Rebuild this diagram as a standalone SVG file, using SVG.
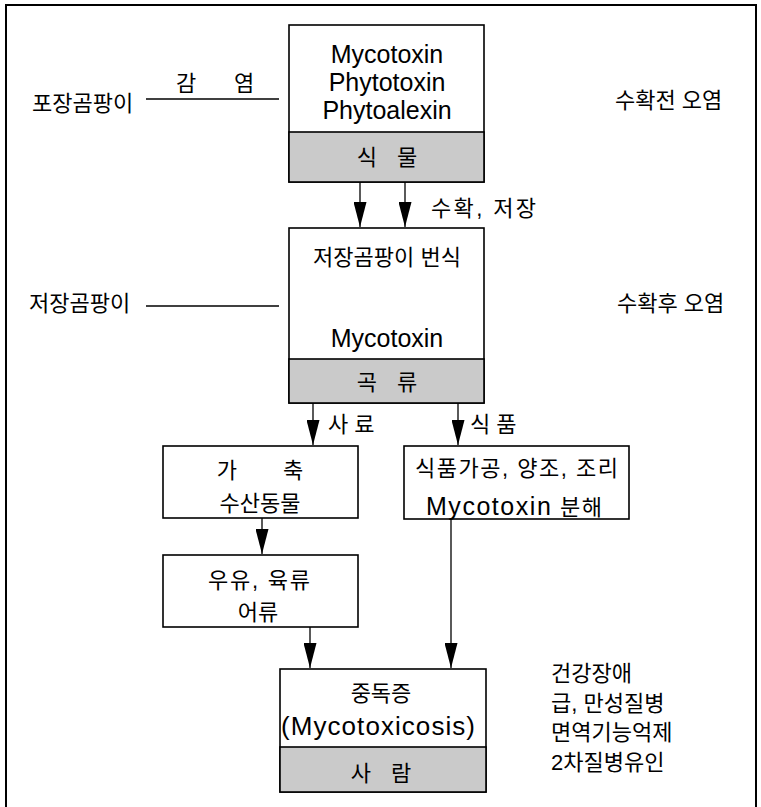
<svg xmlns="http://www.w3.org/2000/svg" width="761" height="807" viewBox="0 0 761 807">
<defs>
<marker id="ah" markerWidth="25" markerHeight="13" refX="25" refY="6.5" orient="auto" markerUnits="userSpaceOnUse" viewBox="0 0 25 13">
<path d="M0,0 L25,6.5 L0,13 Z" fill="#000"/>
</marker>
<style>
text{font-family:"Liberation Sans","Noto Sans CJK KR",sans-serif;fill:#000;}
.k{font-size:22px;}
.e{font-size:25px;}
.m{text-anchor:middle;}
.box{fill:#fff;stroke:#000;stroke-width:1.6;}
.band{fill:#cacaca;stroke:#000;stroke-width:1.6;}
.ln{stroke:#000;stroke-width:1.3;fill:none;}
.ar{stroke:#000;stroke-width:1.3;fill:none;marker-end:url(#ah);}
</style>
</defs>
<rect width="761" height="807" fill="#fff"/>
<g id="frame">
<path d="M6,807 L6,5 L756,5 L756,807" fill="none" stroke="#000" stroke-width="2"/>
</g>
<g id="connectors">
<line class="ln" x1="146" y1="99" x2="279" y2="99"/>
<line class="ln" x1="146" y1="306" x2="279" y2="306"/>
<line class="ln" x1="387" y1="272" x2="387" y2="319"/>
<line class="ar" x1="360" y1="182" x2="360" y2="227"/>
<line class="ar" x1="405" y1="182" x2="405" y2="227"/>
<line class="ar" x1="313" y1="403" x2="313" y2="445"/>
<line class="ar" x1="458" y1="403" x2="458" y2="445"/>
<line class="ar" x1="262" y1="518" x2="262" y2="554"/>
<line class="ar" x1="310" y1="627" x2="310" y2="668"/>
<line class="ar" x1="451" y1="519" x2="451" y2="668"/>
</g>
<g id="field-fungi">
<text class="k" x="32" y="111">포장곰팡이</text>
<text class="k" x="176" y="91">감</text>
<text class="k" x="234" y="91">염</text>
</g>
<g id="pre-harvest">
<text class="k" x="615" y="108">수확전 오염</text>
</g>
<g id="plant">
<rect class="box" x="289" y="25" width="195" height="157"/>
<rect class="band" x="289" y="132" width="195" height="50"/>
<text class="e m" x="387" y="63">Mycotoxin</text>
<text class="e m" x="387" y="91">Phytotoxin</text>
<text class="e m" x="387" y="119">Phytoalexin</text>
<text class="k m" x="387" y="165" style="word-spacing:14px">식 물</text>
</g>
<g id="harvest-label">
<text class="k" x="431" y="216" textLength="105" lengthAdjust="spacing">수확, 저장</text>
</g>
<g id="storage-fungi">
<text class="k" x="29" y="311">저장곰팡이</text>
</g>
<g id="post-harvest">
<text class="k" x="617" y="311">수확후 오염</text>
</g>
<g id="grain">
<rect class="box" x="289" y="228" width="195" height="175"/>
<rect class="band" x="289" y="359" width="195" height="44"/>
<text class="k m" x="387" y="265">저장곰팡이 번식</text>
<text class="e m" x="387" y="347">Mycotoxin</text>
<text class="k m" x="387" y="390" style="word-spacing:14px">곡 류</text>
</g>
<g id="feed-label"><text class="k" x="328" y="432">사 료</text></g>
<g id="food-label"><text class="k" x="470" y="432">식 품</text></g>
<g id="livestock">
<rect class="box" x="163" y="446" width="195" height="72"/>
<text class="k m" x="260" y="478" style="word-spacing:40px">가 축</text>
<text class="k m" x="260" y="511">수산동물</text>
</g>
<g id="processing">
<rect class="box" x="404" y="446" width="225" height="73"/>
<text class="k" x="415" y="476" textLength="203" lengthAdjust="spacing">식품가공, 양조, 조리</text>
<text class="k" x="426" y="515" textLength="176" lengthAdjust="spacing"><tspan class="e">Mycotoxin</tspan> 분해</text>
</g>
<g id="products">
<rect class="box" x="163" y="555" width="195" height="72"/>
<text class="k" x="208" y="588" textLength="102" lengthAdjust="spacing">우유, 육류</text>
<text class="k m" x="258" y="620">어류</text>
</g>
<g id="human">
<rect class="box" x="280" y="669" width="206" height="123"/>
<rect class="band" x="280" y="747" width="206" height="45"/>
<text class="k m" x="381" y="701">중독증</text>
<text x="281" y="735" style="font-size:26px" textLength="194" lengthAdjust="spacing">(Mycotoxicosis)</text>
<text class="k m" x="381" y="781" style="word-spacing:14px">사 람</text>
</g>
<g id="effects">
<text class="k" x="551" y="681">건강장애</text>
<text class="k" x="551" y="711">급, 만성질병</text>
<text class="k" x="551" y="740">면역기능억제</text>
<text class="k" x="551" y="770">2차질병유인</text>
</g>
</svg>
